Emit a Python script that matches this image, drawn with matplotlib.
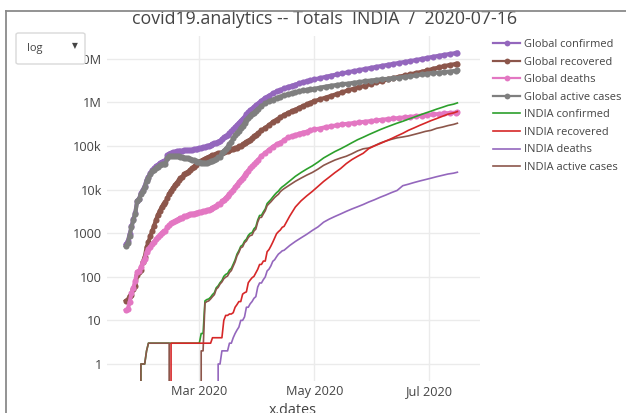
import matplotlib
matplotlib.use("Agg")
import matplotlib.pyplot as plt
from matplotlib.patches import FancyBboxPatch
from matplotlib.lines import Line2D
import numpy as np
import pandas as pd

plt.rcParams['font.family'] = ['Open Sans', 'DejaVu Sans']

# ---------------- Global totals ----------------
# daily from 2020-01-22 to 2020-03-31, then every 2-3 days
G_DAILY_START = "2020-01-22"
G_DAILY_END = "2020-03-31"
G_LATER_DATES = [
    "2020-04-01", "2020-04-03", "2020-04-05", "2020-04-07", "2020-04-09", "2020-04-11",
    "2020-04-13", "2020-04-15", "2020-04-17", "2020-04-19", "2020-04-21", "2020-04-23",
    "2020-04-25", "2020-04-27", "2020-04-29", "2020-05-01", "2020-05-04", "2020-05-07",
    "2020-05-10", "2020-05-13", "2020-05-16", "2020-05-19", "2020-05-22", "2020-05-25",
    "2020-05-28", "2020-05-31", "2020-06-03", "2020-06-06", "2020-06-09", "2020-06-12",
    "2020-06-15", "2020-06-18", "2020-06-21", "2020-06-24", "2020-06-27", "2020-06-30",
    "2020-07-03", "2020-07-06", "2020-07-09", "2020-07-12", "2020-07-15", "2020-07-16",
]

global_confirmed = [
    555, 654, 941, 1434, 2118, 2927, 5578, 6166, 8234, 9927,
    12038, 16787, 19887, 23898, 27643, 30802, 34395, 37129, 40160, 42769,
    44811, 45228, 60381, 66909, 69052, 71235, 73270, 75152, 75653, 76213,
    76841, 78599, 78985, 79570, 80415, 81397, 82756, 84124, 86013,
    88371, 90309, 92844, 95124, 97886, 101800, 105836, 109835, 113582, 118582,
    125865, 128343, 145193, 156099, 167447, 181546, 197168, 214915, 242713, 272167,
    304528, 336953, 378235, 418045, 467653, 529591, 593291, 660693, 720140, 782389,
    857487,
    932605, 1095917, 1272115, 1426096, 1603648, 1777666, 1917320, 2084128, 2250439,
    2404732, 2553508, 2719327, 2900362, 3041764, 3193886, 3349786, 3581884, 3845718,
    4101699, 4347935, 4634068, 4897492, 5210817, 5495061, 5818978, 6166946, 6511121,
    6880799, 7243225, 7632802, 7987698, 8450000, 8860000, 9300000, 9900000, 10450000,
    11080000, 11640000, 12270000, 12840000, 13420000, 13650000,
]

global_recovered = [
    28, 30, 36, 39, 52, 61, 107, 126, 143, 222,
    284, 472, 623, 852, 1124, 1487, 2011, 2616, 3244, 3946,
    4683, 5150, 6295, 8058, 9395, 10865, 12583, 14352, 16121, 18177,
    18890, 22886, 23394, 25227, 27905, 30384, 33277, 36711, 39782,
    42716, 45602, 48228, 51170, 53796, 55865, 58358, 60694, 62494, 64404,
    67003, 68324, 70251, 72624, 76034, 78088, 80840, 83207, 84854, 87256,
    91499, 97704, 98351, 108000, 113787, 122150, 130915, 139415, 149082, 164566,
    178034,
    193177, 225796, 260012, 300054, 354006, 402110, 448655, 511019, 568343,
    623903, 678320, 750938, 816685, 893967, 972719, 1068009, 1162724, 1284741,
    1408980, 1551650, 1693214, 1897466, 2056643, 2238093, 2396140, 2637208, 2848028,
    3083136, 3390000, 3602000, 3877000, 4123000, 4392000, 4694000, 5012000, 5374000,
    5855000, 6283000, 6772000, 7200000, 7540000, 7640000,
]

global_deaths = [
    17, 18, 26, 42, 56, 82, 131, 133, 171, 213,
    259, 362, 426, 492, 564, 634, 719, 806, 906, 1013,
    1113, 1118, 1371, 1523, 1666, 1770, 1868, 2007, 2122, 2247,
    2251, 2458, 2469, 2629, 2708, 2770, 2814, 2872, 2941,
    2996, 3085, 3160, 3254, 3348, 3460, 3558, 3803, 3996, 4262,
    4615, 4720, 5404, 5819, 6440, 7126, 7905, 8733, 9867, 11299,
    12973, 14651, 16505, 18625, 21181, 23970, 27198, 30652, 33925, 37582,
    42107,
    46809, 58787, 69374, 82074, 95735, 108502, 119483, 134176, 157481,
    165044, 177641, 191061, 202842, 211167, 227624, 238650, 250687, 269580,
    282730, 297200, 311799, 323285, 334621, 346232, 359814, 371078, 383474,
    400077, 411200, 425441, 436000, 452000, 466000, 478000, 496000, 511000,
    527000, 539000, 555000, 568000, 580000, 586000,
]

# ---------------- INDIA totals ----------------
india_dates = [
    "2020-01-29", "2020-01-30", "2020-02-01", "2020-02-02", "2020-02-03", "2020-02-14",
    "2020-02-15", "2020-03-01", "2020-03-02", "2020-03-03", "2020-03-04", "2020-03-05",
    "2020-03-06", "2020-03-07", "2020-03-08", "2020-03-09", "2020-03-10", "2020-03-11",
    "2020-03-12", "2020-03-13", "2020-03-14", "2020-03-15", "2020-03-16", "2020-03-17",
    "2020-03-18", "2020-03-19", "2020-03-20", "2020-03-21", "2020-03-22", "2020-03-23",
    "2020-03-24", "2020-03-25", "2020-03-26", "2020-03-27", "2020-03-28", "2020-03-29",
    "2020-03-30", "2020-03-31", "2020-04-01", "2020-04-02", "2020-04-03", "2020-04-04",
    "2020-04-05", "2020-04-06", "2020-04-07", "2020-04-08", "2020-04-09", "2020-04-10",
    "2020-04-11", "2020-04-12", "2020-04-13", "2020-04-14", "2020-04-15", "2020-04-18",
    "2020-04-21", "2020-04-24", "2020-04-27", "2020-04-30", "2020-05-03", "2020-05-06",
    "2020-05-09", "2020-05-12", "2020-05-15", "2020-05-18", "2020-05-21", "2020-05-24",
    "2020-05-27", "2020-05-30", "2020-06-02", "2020-06-05", "2020-06-08", "2020-06-11",
    "2020-06-14", "2020-06-17", "2020-06-20", "2020-06-23", "2020-06-26", "2020-06-29",
    "2020-07-02", "2020-07-05", "2020-07-08", "2020-07-11", "2020-07-14", "2020-07-16",
]

india_confirmed = [
    0, 1, 1, 2, 3, 3,
    3, 3, 5, 5, 28, 30,
    31, 34, 39, 43, 56, 62,
    73, 82, 102, 113, 119, 142,
    156, 194, 244, 330, 396, 499,
    536, 657, 727, 887, 987, 1024,
    1251, 1397, 1998, 2543, 2567, 3082,
    3588, 4778, 5311, 5916, 6725, 7598,
    8446, 9205, 10453, 11487, 12322, 15722,
    20080, 24530, 29451, 34863, 42533, 52987,
    62808, 74292, 85784, 100328, 118226, 138536,
    158086, 181827, 207191, 236184, 265928, 297535,
    332424, 366946, 410461, 456183, 509446, 566840,
    625544, 697413, 767296, 849553, 906752, 968876,
]

india_recovered = [
    0, 0, 0, 0, 0, 0,
    3, 3, 3, 3, 3, 3,
    3, 3, 4, 4, 4, 4,
    4, 4, 10, 13, 13, 14,
    14, 15, 20, 23, 27, 27,
    40, 43, 45, 73, 84, 95,
    102, 123, 148, 191, 192, 229,
    229, 375, 421, 506, 620, 774,
    969, 1080, 1181, 1359, 1432, 2463,
    3975, 5498, 7137, 9068, 11775, 15331,
    19301, 24420, 30258, 39233, 48553, 57692,
    67749, 86936, 100285, 113233, 129095, 147195,
    169798, 194325, 227756, 258685, 295881, 334822,
    379892, 424433, 476378, 534618, 571460, 612768,
]

india_deaths = [
    0, 0, 0, 0, 0, 0,
    0, 0, 0, 0, 0, 0,
    0, 0, 0, 0, 0, 1,
    1, 2, 2, 2, 2, 3,
    3, 4, 5, 6, 7, 10,
    10, 12, 20, 20, 24, 27,
    32, 35, 58, 72, 72, 86,
    99, 136, 150, 178, 226, 246,
    288, 331, 358, 393, 405, 521,
    645, 780, 939, 1154, 1391, 1785,
    2101, 2415, 2753, 3156, 3584, 4024,
    4534, 5185, 5829, 6649, 7473, 8498,
    9520, 12237, 13254, 14476, 15689, 16893,
    18213, 19693, 21129, 22674, 23727, 24915,
]

y_tick_values = [1, 10, 100, 1000, 1e4, 1e5, 1e6, 1e7]
y_tick_labels = ["1", "10", "100", "1000", "10k", "100k", "1M", "10M"]
x_tick_dates = ["2020-03-01", "2020-05-01", "2020-07-01"]
x_tick_labels = ["Mar 2020", "May 2020", "Jul 2020"]

TITLE = "covid19.analytics -- Totals  INDIA  /  2020-07-16"

# ---------------- assemble ----------------
g_dates = pd.to_datetime(list(pd.date_range(G_DAILY_START, G_DAILY_END)) + G_LATER_DATES)
g_conf = np.array(global_confirmed, dtype=float)
g_rec = np.array(global_recovered, dtype=float)
g_dea = np.array(global_deaths, dtype=float)
g_act = g_conf - g_rec - g_dea

i_dates = pd.to_datetime(india_dates)
i_conf = np.array(india_confirmed, dtype=float)
i_rec = np.array(india_recovered, dtype=float)
i_dea = np.array(india_deaths, dtype=float)
i_act = i_conf - i_rec - i_dea

W, H = 626, 413
fig = plt.figure(figsize=(W / 100, H / 100), dpi=100)
fig.patch.set_facecolor("white")

ax = fig.add_axes([107 / W, 1 - 381 / H, (480 - 107) / W, (381 - 36) / H])
ax.set_yscale("log", nonpositive="clip")

TXT = "#444444"
C_PURPLE = "#9467bd"
C_BROWN = "#8c564b"
C_PINK = "#e377c2"
C_GRAY = "#7f7f7f"
C_GREEN = "#2ca02c"
C_RED = "#d62728"

mk = dict(marker="o", markersize=4.4, lw=2.9, markeredgewidth=0)
handles = []
handles += ax.plot(g_dates, g_conf, color=C_PURPLE, label="Global confirmed", zorder=3, **mk)
handles += ax.plot(g_dates, g_rec, color=C_BROWN, label="Global recovered", zorder=3, **mk)
handles += ax.plot(g_dates, g_dea, color=C_PINK, label="Global deaths", zorder=3, **mk)
handles += ax.plot(g_dates, g_act, color=C_GRAY, label="Global active cases", zorder=3, **mk)
handles += ax.plot(i_dates, i_conf, color=C_GREEN, lw=1.2, label="INDIA confirmed", zorder=4)
handles += ax.plot(i_dates, i_rec, color=C_RED, lw=1.2, label="INDIA recovered", zorder=6)
handles += ax.plot(i_dates, i_dea, color=C_PURPLE, lw=1.2, label="INDIA deaths", zorder=7)
handles += ax.plot(i_dates, i_act, color=C_BROWN, lw=1.2, label="INDIA active cases", zorder=5)

ax.set_xlim(pd.Timestamp("2020-01-12"), pd.Timestamp("2020-07-28"))
ax.set_ylim(10 ** -0.39, 10 ** 7.52)

ax.set_yticks(y_tick_values)
ax.set_yticklabels(y_tick_labels)
ax.yaxis.set_minor_locator(matplotlib.ticker.NullLocator())
ax.set_xticks(pd.to_datetime(x_tick_dates))
ax.set_xticklabels(x_tick_labels)
ax.tick_params(length=0, colors=TXT, labelsize=9.2)
ax.tick_params(axis="y", pad=3.8)
ax.tick_params(axis="x", pad=3)
ax.grid(True, color="#ebebeb", lw=1)
ax.set_axisbelow(True)
for s in ax.spines.values():
    s.set_visible(False)

fig.text(325 / W, 1 - 19 / H, TITLE, ha="center", va="center", fontsize=12.8, color=TXT)
fig.text(293 / W, 1 - 410 / H, "x.dates", ha="center", va="center", fontsize=10.4, color=TXT)

leg = fig.legend(handles=handles, loc="upper left", bbox_to_anchor=(493 / W, 1 - 39 / H),
                 frameon=False, fontsize=7.9, handlelength=2.5, handletextpad=0.35,
                 labelspacing=0.6, borderaxespad=0, borderpad=0)
for t in leg.get_texts():
    t.set_color(TXT)
for ln in leg.get_lines()[:4]:
    ln.set_linewidth(1.6)
    ln.set_markersize(4.2)

# range dropdown box
fig.add_artist(FancyBboxPatch((16 / W, 1 - 64 / H), 69 / W, 31 / H,
                              boxstyle="round,pad=0,rounding_size=0.004",
                              transform=fig.transFigure, facecolor="white",
                              edgecolor="#d9d9d9", lw=1, zorder=20))
fig.text(27 / W, 1 - 48 / H, "log", ha="left", va="center", fontsize=8, color=TXT, zorder=21)
fig.text(75 / W, 1 - 46 / H, "\u25bc", ha="center", va="center", fontsize=5.5, color=TXT,
         family=["DejaVu Sans"], zorder=21)

# frame lines of the container
fig.add_artist(Line2D([6 / W, 6 / W], [0, 1 - 11 / H], transform=fig.transFigure,
                      color="#8a8a8a", lw=1.3, zorder=30))
fig.add_artist(Line2D([6 / W, 1], [1 - 11 / H, 1 - 11 / H], transform=fig.transFigure,
                      color="#8a8a8a", lw=1.3, zorder=30))

fig.savefig("out.png", dpi=100)
